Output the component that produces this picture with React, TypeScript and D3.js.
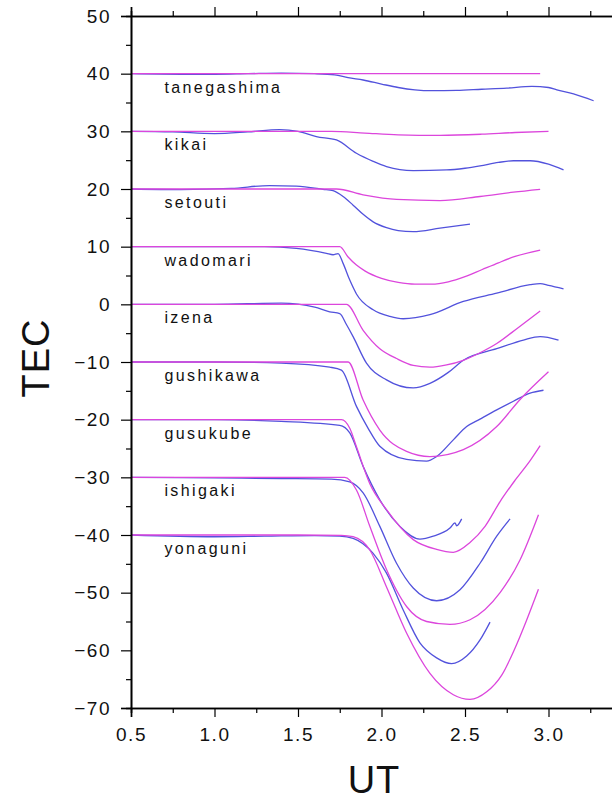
import React, { useEffect, useRef } from 'react'
import * as d3 from 'd3'

type Pt = [number, number]

// stations, top to bottom, with the offset each one is plotted at
const stations = ['tanegashima', 'kikai', 'setouti', 'wadomari', 'izena', 'gushikawa', 'gusukube', 'ishigaki', 'yonaguni']
const baselines = [40, 30, 20, 10, 0, -10, -20, -30, -40]

// observed TEC (offset included), [UT, TEC]
const tanegashimaObs: Pt[] = [[0.5, 40], [0.8, 39.9], [1.0, 39.9], [1.2, 40], [1.4, 40.1], [1.6, 40], [1.72, 39.8], [1.8, 39.3], [1.89, 38.9], [2.0, 38.2], [2.1, 37.6], [2.2, 37.2], [2.3, 37.05], [2.45, 37.1], [2.6, 37.3], [2.75, 37.5], [2.9, 37.8], [3.0, 37.6], [3.05, 37.2], [3.15, 36.5], [3.27, 35.3]]
const kikaiObs: Pt[] = [[0.5, 30], [0.75, 29.9], [1.0, 29.6], [1.2, 29.9], [1.39, 30.3], [1.5, 30], [1.61, 29.1], [1.73, 28.5], [1.85, 26.2], [1.95, 24.8], [2.03, 23.9], [2.19, 23.2], [2.39, 23.3], [2.5, 23.6], [2.59, 24.0], [2.7, 24.6], [2.79, 24.9], [2.89, 24.9], [3.0, 24.3], [3.09, 23.3]]
const setoutiObs: Pt[] = [[0.5, 20], [0.8, 19.9], [1.1, 20.1], [1.33, 20.6], [1.49, 20.5], [1.65, 19.95], [1.71, 19.7], [1.77, 18.7], [1.83, 17.2], [1.89, 15.6], [1.95, 14.3], [2.03, 13.3], [2.1, 12.8], [2.19, 12.6], [2.35, 13.2], [2.53, 13.9]]
const wadomariObs: Pt[] = [[0.5, 10], [1.0, 10], [1.3, 10], [1.49, 9.7], [1.67, 8.85], [1.71, 8.6], [1.74, 8.8], [1.77, 7.1], [1.81, 4.2], [1.85, 1.8], [1.95, -0.95], [2.05, -2.1], [2.13, -2.5], [2.29, -1.8], [2.49, 0.5], [2.69, 1.94], [2.89, 3.4], [2.95, 3.6], [3.0, 3.3], [3.09, 2.7]]
const izenaObs: Pt[] = [[0.5, 0], [1.0, 0], [1.4, 0.2], [1.6, -0.5], [1.69, -1.3], [1.75, -1.6], [1.79, -3.5], [1.83, -5.6], [1.91, -10.2], [2.03, -13.1], [2.19, -14.5], [2.29, -13.7], [2.4, -11.8], [2.49, -9.7], [2.69, -7.7], [2.85, -6.2], [2.95, -5.6], [3.06, -6.2]]
const gushikawaObs: Pt[] = [[0.5, -10], [1.0, -10], [1.4, -10.2], [1.69, -10.9], [1.76, -11.4], [1.85, -17.7], [1.92, -21.5], [1.99, -24.6], [2.15, -26.9], [2.27, -27.2], [2.33, -26.4], [2.43, -23.5], [2.51, -21.2], [2.59, -19.9], [2.69, -18.3], [2.79, -16.8], [2.89, -15.4], [2.97, -14.9]]
const gusukubeObs: Pt[] = [[0.5, -20], [1.0, -20], [1.4, -20.3], [1.75, -21], [1.81, -22.3], [1.89, -28.1], [1.99, -33.9], [2.11, -38.5], [2.23, -40.7], [2.31, -40.2], [2.41, -38.8], [2.44, -37.9], [2.45, -38.4], [2.48, -37.2]]
const ishigakiObs: Pt[] = [[0.5, -30], [1.0, -30.1], [1.4, -30.2], [1.7, -30.3], [1.81, -30.8], [1.89, -32.7], [1.99, -38.5], [2.09, -44.9], [2.19, -49.2], [2.33, -51.4], [2.47, -49.5], [2.59, -44.9], [2.69, -40.2], [2.77, -37.2]]
const yonaguniObs: Pt[] = [[0.5, -40], [1.0, -40.3], [1.3, -40.2], [1.6, -40.1], [1.75, -40.2], [1.83, -40.6], [1.95, -43.2], [2.03, -46.6], [2.13, -53], [2.23, -58.7], [2.33, -61.3], [2.42, -62.3], [2.51, -61], [2.59, -58.2], [2.65, -55.1]]

// model TEC
const tanegashimaModel: Pt[] = [[0.5, 40], [1.0, 40], [1.5, 40], [2.0, 40], [2.5, 40], [2.95, 40]]
const kikaiModel: Pt[] = [[0.5, 30], [1.0, 30], [1.5, 30], [1.7, 30], [1.9, 29.7], [2.1, 29.4], [2.35, 29.3], [2.6, 29.5], [2.8, 29.8], [3.0, 30]]
const setoutiModel: Pt[] = [[0.5, 20], [1.0, 20], [1.5, 20], [1.65, 20], [1.73, 20], [1.89, 19.0], [2.09, 18.2], [2.35, 18.0], [2.59, 18.7], [2.79, 19.45], [2.95, 19.95]]
const wadomariModel: Pt[] = [[0.5, 10], [1.0, 10], [1.5, 10], [1.7, 10], [1.75, 10], [1.8, 8.2], [1.85, 6.8], [1.9, 5.8], [2.0, 4.5], [2.1, 3.8], [2.2, 3.5], [2.3, 3.5], [2.4, 3.9], [2.5, 4.8], [2.6, 6.0], [2.7, 7.2], [2.8, 8.3], [2.95, 9.4]]
const izenaModel: Pt[] = [[0.5, 0], [1.0, 0], [1.5, 0], [1.74, 0], [1.79, 0], [1.89, -4.5], [1.99, -7.7], [2.09, -9.4], [2.19, -10.6], [2.29, -10.9], [2.39, -10.5], [2.49, -9.7], [2.59, -8.4], [2.69, -6.8], [2.82, -4.0], [2.95, -1.15]]
const gushikawaModel: Pt[] = [[0.5, -10], [1.0, -10], [1.5, -10], [1.75, -10], [1.8, -10], [1.89, -16.6], [1.99, -21.8], [2.15, -25.5], [2.29, -26.4], [2.49, -25.2], [2.69, -21.2], [2.83, -16.5], [3.0, -11.7]]
const gusukubeModel: Pt[] = [[0.5, -20], [1.0, -20], [1.5, -20], [1.72, -20], [1.76, -20], [1.81, -21.5], [1.85, -24.7], [1.93, -31.1], [2.03, -35.6], [2.19, -40.8], [2.33, -42.5], [2.43, -43], [2.53, -41.3], [2.62, -38.5], [2.71, -34.2], [2.8, -30.5], [2.89, -27.1], [2.95, -24.5]]
const ishigakiModel: Pt[] = [[0.5, -30], [1.0, -30], [1.5, -30], [1.74, -30], [1.78, -30], [1.85, -32.2], [1.93, -38.5], [2.03, -46], [2.15, -52.4], [2.27, -55], [2.41, -55.5], [2.53, -54.7], [2.71, -50], [2.83, -44.3], [2.94, -36.5]]
const yonaguniModel: Pt[] = [[0.5, -40], [1.0, -40], [1.5, -40], [1.76, -40.05], [1.83, -40.3], [1.93, -42.6], [2.03, -49], [2.15, -57], [2.29, -64], [2.43, -67.7], [2.53, -68.5], [2.63, -67.2], [2.72, -64.3], [2.8, -59.6], [2.87, -54.7], [2.94, -49.4]]

const observed = [tanegashimaObs, kikaiObs, setoutiObs, wadomariObs, izenaObs, gushikawaObs, gusukubeObs, ishigakiObs, yonaguniObs]
const model = [tanegashimaModel, kikaiModel, setoutiModel, wadomariModel, izenaModel, gushikawaModel, gusukubeModel, ishigakiModel, yonaguniModel]

// 3.5 sits just past the right edge of the page, so no label for it
const xTicks = [0.5, 1.0, 1.5, 2.0, 2.5, 3.0]
const xMinor = [0.75, 1.25, 1.75, 2.25, 2.75, 3.25]
const yTicks = [-70, -60, -50, -40, -30, -20, -10, 0, 10, 20, 30, 40, 50]
const yMinor = [-65, -55, -45, -35, -25, -15, -5, 5, 15, 25, 35, 45]

const App = () => {
    const ref = useRef<SVGSVGElement>(null)

    useEffect(() => {
        const left = 131, top = 16, bottom = 708, right = 632
        const font = '"Liberation Sans", Arial, sans-serif'

        const x = d3.scaleLinear().domain([0.5, 3.5]).range([left, right])
        const y = d3.scaleLinear().domain([-70, 50]).range([bottom, top])

        const svg = d3.select(ref.current)
        svg.selectAll('*').remove()

        const line = d3.line<Pt>()
            .x(d => x(d[0]))
            .y(d => y(d[1]))
            .curve(d3.curveMonotoneX)

        svg.append('g')
            .selectAll('path')
            .data(observed)
            .enter()
            .append('path')
            .attr('d', d => line(d))
            .attr('fill', 'none')
            .attr('stroke', '#5252dc')
            .attr('stroke-width', 1.3)

        svg.append('g')
            .selectAll('path')
            .data(model)
            .enter()
            .append('path')
            .attr('d', d => line(d))
            .attr('fill', 'none')
            .attr('stroke', '#dc46dc')
            .attr('stroke-width', 1.3)

        // station names under each baseline
        svg.append('g')
            .selectAll('text')
            .data(stations)
            .enter()
            .append('text')
            .attr('x', x(0.7))
            .attr('y', (d, i) => y(baselines[i]) + 19)
            .attr('font-family', font)
            .attr('font-size', 16)
            .attr('letter-spacing', 2.4)
            .attr('fill', '#111')
            .text(d => d)

        const styleAxis = (g: any) => {
            g.select('.domain').attr('stroke-width', 1.6)
            g.selectAll('.tick line').attr('stroke-width', 1.2)
            g.selectAll('text')
                .attr('font-family', font)
                .attr('font-size', 19)
                .attr('letter-spacing', 1.5)
                .attr('fill', '#111')
        }

        // bottom
        svg.append('g')
            .attr('transform', `translate(0,${bottom})`)
            .call(d3.axisBottom(x).tickValues(xMinor).tickSize(5).tickFormat(() => ''))
            .call(styleAxis)
        svg.append('g')
            .attr('transform', `translate(0,${bottom})`)
            .call(d3.axisBottom(x).tickValues(xTicks).tickSize(9).tickPadding(11).tickFormat(d3.format('.1f')))
            .call(styleAxis)

        // top
        svg.append('g')
            .attr('transform', `translate(0,${top})`)
            .call(d3.axisTop(x).tickValues(xMinor).tickSize(5).tickFormat(() => ''))
            .call(styleAxis)
        svg.append('g')
            .attr('transform', `translate(0,${top})`)
            .call(d3.axisTop(x).tickValues(xTicks).tickSize(9).tickFormat(() => ''))
            .call(styleAxis)

        // left
        svg.append('g')
            .attr('transform', `translate(${left},0)`)
            .call(d3.axisLeft(y).tickValues(yMinor).tickSize(5).tickFormat(() => ''))
            .call(styleAxis)
        svg.append('g')
            .attr('transform', `translate(${left},0)`)
            .call(d3.axisLeft(y).tickValues(yTicks).tickSize(10).tickPadding(10).tickFormat(d3.format('d')))
            .call(styleAxis)

        svg.append('text')
            .attr('x', 374)
            .attr('y', 793)
            .attr('text-anchor', 'middle')
            .attr('font-family', font)
            .attr('font-size', 38)
            .attr('letter-spacing', 1)
            .attr('fill', '#111')
            .text('UT')

        svg.append('text')
            .attr('transform', 'translate(49,358) rotate(-90)')
            .attr('text-anchor', 'middle')
            .attr('font-family', font)
            .attr('font-size', 38)
            .attr('letter-spacing', 1)
            .attr('fill', '#111')
            .text('TEC')
    }, [])

    return (
        <svg ref={ref} width={612} height={800}
            style={{ position: 'absolute', left: 0, top: 0, background: '#fff' }} />
    )
}

export default App
